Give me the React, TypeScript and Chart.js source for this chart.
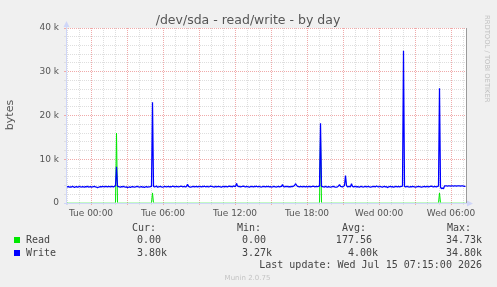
import React, { useEffect, useRef } from 'react';
import { Chart, registerables } from 'chart.js';

Chart.register(...registerables);

const TITLE = '/dev/sda - read/write - by day';
const Y_LABEL = 'bytes';
const SIDE_TEXT = 'RRDTOOL / TOBI OETIKER';
const FOOTER = 'Munin 2.0.75';
const LAST_UPDATE = 'Last update: Wed Jul 15 07:15:00 2026';

// time axis in minutes relative to Tue 00:00
const X_START = -125; // Mon 21:55
const X_END = 1875; // Wed 07:15
const SAMPLE_MINUTES = 5;
const GRID_MINUTES = 60;
const MAJOR_GRID_MINUTES = 180;
const X_TICK_MINUTES = [0, 360, 720, 1080, 1440, 1800];
const X_TICK_LABELS = ['Tue 00:00', 'Tue 06:00', 'Tue 12:00', 'Tue 18:00', 'Wed 00:00', 'Wed 06:00'];

// value axis in thousands of bytes
const Y_MAX = 40;
const Y_GRID_STEP = 2;
const Y_MAJOR_STEP = 10;
const Y_TICK_VALUES = [0, 10, 20, 30, 40];
const Y_TICK_LABELS = ['0', '10 k', '20 k', '30 k', '40 k'];

// Write, k bytes, one value per 5-minute sample (400 samples)
const WRITE_K = [
  3.8, 3.7, 3.75, 3.6, 3.7, 3.65, 3.8, 3.7, 3.55, 3.7, 3.75, 3.6, 3.7, 3.8, 3.7, 3.65, 3.75, 3.7, 3.6, 3.75,
  3.7, 3.8, 3.65, 3.7, 3.75, 3.6, 3.7, 3.75, 3.8, 3.7, 3.65, 3.5, 3.6, 3.7, 3.75, 3.7, 3.8, 3.75, 3.7, 3.8,
  3.75, 3.7, 3.8, 3.75, 3.7, 3.8, 3.75, 3.7, 3.8, 4.0, 8.3, 3.8, 3.75, 3.7, 3.6, 3.75, 3.7, 3.8, 3.7, 3.65,
  3.7, 3.5, 3.6, 3.7, 3.55, 3.7, 3.75, 3.7, 3.6, 3.7, 3.75, 3.8, 3.7, 3.65, 3.7, 3.75, 3.6, 3.7, 3.55, 3.7,
  3.75, 3.6, 3.7, 3.7, 3.75, 3.8, 23.0, 3.8, 3.7, 3.75, 3.9, 3.6, 3.7, 3.75, 3.8, 3.7, 3.65, 3.7, 3.8, 3.75,
  3.7, 3.75, 3.8, 3.7, 3.75, 3.7, 3.85, 3.8, 3.7, 3.75, 3.8, 3.75, 3.7, 3.75, 3.8, 3.85, 3.7, 3.75, 3.8, 3.7,
  3.75, 4.3, 3.8, 3.7, 3.6, 3.7, 3.75, 3.8, 3.7, 3.75, 3.8, 3.7, 3.75, 3.8, 3.75, 3.7, 3.8, 3.75, 3.85, 3.7,
  3.75, 3.8, 3.7, 3.75, 3.85, 3.8, 3.75, 3.7, 3.65, 3.8, 3.7, 3.75, 3.8, 3.75, 3.7, 3.6, 3.75, 3.8, 3.7, 3.8,
  3.75, 3.7, 3.8, 3.85, 3.75, 3.8, 3.7, 3.9, 3.8, 3.75, 4.5, 3.9, 3.75, 3.8, 3.7, 3.75, 3.8, 3.85, 3.75, 3.7,
  3.8, 3.75, 3.7, 3.6, 3.75, 3.8, 3.75, 3.7, 3.8, 3.75, 3.85, 3.7, 3.75, 3.8, 3.7, 3.65, 3.75, 3.8, 3.75, 3.7,
  3.8, 3.75, 3.8, 3.7, 3.75, 3.65, 3.7, 3.8, 3.75, 3.7, 3.65, 3.75, 3.8, 3.7, 3.75, 3.8, 4.2, 3.75, 3.7, 3.8,
  3.75, 3.8, 3.7, 3.75, 3.7, 3.8, 3.75, 3.85, 4.0, 4.4, 4.1, 3.8, 3.75, 3.7, 3.8, 3.75, 3.7, 3.8, 3.75, 3.7,
  3.8, 3.7, 3.75, 3.8, 3.7, 3.75, 3.8, 3.85, 3.7, 3.75, 3.8, 3.75, 3.8, 3.9, 18.2, 3.8, 3.75, 3.7, 3.65, 3.8,
  3.7, 3.6, 3.75, 3.7, 3.6, 3.7, 3.75, 3.8, 3.7, 3.6, 3.65, 3.7, 3.9, 4.2, 3.8, 3.75, 3.7, 3.8, 4.0, 6.3,
  4.0, 3.7, 3.75, 3.8, 3.7, 4.4, 3.8, 3.7, 3.75, 3.8, 3.7, 3.75, 3.7, 3.6, 3.75, 3.8, 3.7, 3.65, 3.75, 3.8,
  3.7, 3.75, 3.8, 3.7, 3.65, 3.7, 3.75, 3.8, 3.75, 3.7, 3.9, 3.75, 3.7, 3.8, 3.75, 3.7, 3.6, 3.75, 3.8, 3.7,
  3.75, 3.5, 3.7, 3.75, 3.8, 3.7, 3.75, 3.6, 3.7, 3.8, 3.75, 3.7, 3.8, 3.7, 3.75, 3.8, 3.85, 34.8, 3.8, 3.7,
  3.75, 3.8, 3.7, 3.65, 3.75, 3.7, 3.8, 3.75, 3.7, 3.6, 3.7, 3.75, 3.8, 3.75, 3.7, 3.65, 3.7, 3.75, 3.8, 3.7,
  3.75, 3.8, 3.7, 3.75, 3.8, 3.85, 3.75, 3.7, 3.8, 3.75, 3.7, 3.8, 3.85, 26.2, 3.6, 3.3, 3.4, 3.27, 3.9, 3.9,
  3.9, 3.85, 3.9, 3.9, 3.85, 3.9, 3.9, 3.85, 3.9, 3.9, 3.85, 3.9, 3.9, 3.9, 3.85, 3.9, 3.9, 3.85, 3.8, 3.8,
];

// Read is 0 except at these samples (k bytes)
const READ_SPIKE_INDEX = [50, 86, 254, 373];
const READ_SPIKE_K = [16, 2.3, 15, 2.3];

const SERIES_NAMES = ['Read', 'Write'];
const SERIES_COLORS = ['#00e800', '#0000ff'];
const STAT_HEADERS = ['Cur:', 'Min:', 'Avg:', 'Max:'];
const READ_STATS = ['0.00', '0.00', '177.56', '34.73k'];
const WRITE_STATS = ['3.80k', '3.27k', '4.00k', '34.80k'];

// styling / layout
const BG = '#f0f0f0';
const MINOR_GRID = 'rgb(222,222,222)';
const MAJOR_GRID = 'rgb(240,170,170)';
const AXIS_COLOR = '#cfd6f8';
const FRAME_COLOR = '#9a9a9a';
const TEXT_COLOR = '#555555';
const SANS = '"DejaVu Sans"';
const MONO = '"DejaVu Sans Mono"';
const HEADER_X = [132, 237, 342, 447];
const VALUE_RIGHT = [167, 272, 378, 482];

const times = WRITE_K.map((_, i) => X_START + SAMPLE_MINUTES * (i + 0.5));
const readK = WRITE_K.map((_, i) => {
  const k = READ_SPIKE_INDEX.indexOf(i);
  return k >= 0 ? READ_SPIKE_K[k] : 0;
});

const isMajorX = (v: number) => Math.abs(v % MAJOR_GRID_MINUTES) < 1e-6;
const isMajorY = (v: number) => Math.abs(v % Y_MAJOR_STEP) < 1e-6;

const muninPlugin = {
  id: 'munin',
  beforeDraw(chart: any) {
    const { ctx, chartArea: a, width, height } = chart;
    ctx.save();
    ctx.fillStyle = BG;
    ctx.fillRect(0, 0, width, height);
    ctx.fillStyle = '#ffffff';
    ctx.fillRect(a.left, a.top, a.right - a.left, a.bottom - a.top);
    ctx.restore();
  },
  afterDatasetsDraw(chart: any) {
    const { ctx, chartArea: a } = chart;
    ctx.save();
    ctx.lineWidth = 1;
    ctx.strokeStyle = FRAME_COLOR;
    ctx.beginPath();
    ctx.moveTo(a.right + 0.5, a.top);
    ctx.lineTo(a.right + 0.5, a.bottom);
    ctx.stroke();
    ctx.strokeStyle = AXIS_COLOR;
    ctx.fillStyle = AXIS_COLOR;
    ctx.beginPath();
    ctx.moveTo(a.left + 0.5, a.bottom + 2);
    ctx.lineTo(a.left + 0.5, a.top - 5);
    ctx.moveTo(a.left - 2, a.bottom + 0.5);
    ctx.lineTo(a.right + 5, a.bottom + 0.5);
    ctx.stroke();
    ctx.beginPath();
    ctx.moveTo(a.left + 0.5, a.top - 7);
    ctx.lineTo(a.left - 2.5, a.top - 1);
    ctx.lineTo(a.left + 3.5, a.top - 1);
    ctx.closePath();
    ctx.fill();
    ctx.beginPath();
    ctx.moveTo(a.right + 7, a.bottom + 0.5);
    ctx.lineTo(a.right + 1, a.bottom - 2.5);
    ctx.lineTo(a.right + 1, a.bottom + 3.5);
    ctx.closePath();
    ctx.fill();
    ctx.restore();
  },
  afterDraw(chart: any) {
    const { ctx } = chart;
    ctx.save();
    ctx.fillStyle = TEXT_COLOR;
    ctx.font = `12.5px ${SANS}`;
    ctx.textAlign = 'center';
    ctx.textBaseline = 'alphabetic';
    ctx.fillText(TITLE, 248, 24);
    ctx.save();
    ctx.translate(13, 115);
    ctx.rotate(-Math.PI / 2);
    ctx.font = `11px ${SANS}`;
    ctx.fillStyle = TEXT_COLOR;
    ctx.fillText(Y_LABEL, 0, 0);
    ctx.restore();
    ctx.save();
    ctx.translate(485, 15);
    ctx.rotate(Math.PI / 2);
    ctx.font = `6.8px ${SANS}`;
    ctx.fillStyle = '#c0c0c0';
    ctx.textAlign = 'left';
    ctx.fillText(SIDE_TEXT, 0, 0);
    ctx.restore();
    ctx.font = `10px ${MONO}`;
    ctx.fillStyle = '#444444';
    ctx.textAlign = 'left';
    STAT_HEADERS.forEach((h, i) => ctx.fillText(h, HEADER_X[i], 231));
    const rows = [READ_STATS, WRITE_STATS];
    const baselines = [243, 256];
    rows.forEach((stats, r) => {
      ctx.fillStyle = SERIES_COLORS[r];
      ctx.fillRect(14, baselines[r] - 6, 6, 6);
      ctx.fillStyle = '#444444';
      ctx.textAlign = 'left';
      ctx.fillText(SERIES_NAMES[r], 26, baselines[r]);
      ctx.textAlign = 'right';
      stats.forEach((s, i) => {
        const txt = s.endsWith('k') ? s : s + ' ';
        ctx.fillText(txt, VALUE_RIGHT[i], baselines[r]);
      });
    });
    ctx.textAlign = 'right';
    ctx.fillText(LAST_UPDATE, 482, 268);
    ctx.font = `7px ${SANS}`;
    ctx.fillStyle = '#c4c4c4';
    ctx.textAlign = 'center';
    ctx.fillText(FOOTER, 247.5, 279.5);
    ctx.restore();
  },
};

export default function App() {
  const ref = useRef<HTMLCanvasElement>(null);
  useEffect(() => {
    document.body.style.margin = '0';
    const canvas = ref.current;
    if (!canvas) return;
    const colX = (c: any) => (c.tick && isMajorX(c.tick.value) ? MAJOR_GRID : MINOR_GRID);
    const colY = (c: any) => (c.tick && isMajorY(c.tick.value) ? MAJOR_GRID : MINOR_GRID);
    const chart = new Chart(canvas, {
      type: 'line',
      data: {
        datasets: [
          {
            label: SERIES_NAMES[1],
            data: times.map((t, i) => ({ x: t, y: WRITE_K[i] })),
            borderColor: SERIES_COLORS[1],
            borderWidth: 1.25,
            pointRadius: 0,
            tension: 0,
            borderJoinStyle: 'bevel',
            order: 1,
          },
          {
            label: SERIES_NAMES[0],
            data: times.map((t, i) => ({ x: t, y: readK[i] })),
            borderColor: SERIES_COLORS[0],
            borderWidth: 1,
            pointRadius: 0,
            tension: 0,
            borderJoinStyle: 'bevel',
            clip: { left: 0, top: 0, right: 0, bottom: -0.6 },
            order: 2,
          },
        ],
      } as any,
      options: {
        animation: false,
        responsive: false,
        devicePixelRatio: 1,
        events: [],
        layout: { padding: { top: 28, right: 31, left: 0, bottom: 0 } },
        plugins: { legend: { display: false }, tooltip: { enabled: false }, title: { display: false } },
        scales: {
          x: {
            type: 'linear',
            min: X_START,
            max: X_END,
            afterBuildTicks: (s: any) => {
              const t: any[] = [];
              for (let v = Math.ceil(X_START / GRID_MINUTES) * GRID_MINUTES; v <= X_END; v += GRID_MINUTES) t.push({ value: v });
              s.ticks = t;
            },
            afterFit: (s: any) => {
              s.height = 84;
            },
            grid: { color: colX, tickColor: colX, lineWidth: 1, drawTicks: true, tickLength: 2 },
            border: { display: false, dash: [1, 1] },
            ticks: {
              autoSkip: false,
              maxRotation: 0,
              padding: 3,
              color: TEXT_COLOR,
              font: { family: 'DejaVu Sans', size: 9 },
              callback: (v: any) => {
                const k = X_TICK_MINUTES.indexOf(Number(v));
                return k >= 0 ? X_TICK_LABELS[k] : '';
              },
            },
          },
          y: {
            type: 'linear',
            min: 0,
            max: Y_MAX,
            afterBuildTicks: (s: any) => {
              const t: any[] = [];
              for (let v = 0; v <= Y_MAX; v += Y_GRID_STEP) t.push({ value: v });
              s.ticks = t;
            },
            afterFit: (s: any) => {
              s.width = 66;
            },
            grid: { color: colY, tickColor: colY, lineWidth: 1, drawTicks: true, tickLength: 2 },
            border: { display: false, dash: [1, 1] },
            ticks: {
              autoSkip: false,
              padding: 5,
              color: TEXT_COLOR,
              font: { family: 'DejaVu Sans', size: 9 },
              callback: (v: any) => {
                const k = Y_TICK_VALUES.indexOf(Number(v));
                return k >= 0 ? Y_TICK_LABELS[k] : '';
              },
            },
          },
        },
      } as any,
      plugins: [muninPlugin],
    });
    return () => chart.destroy();
  }, []);
  return <canvas ref={ref} width={497} height={287} style={{ display: 'block', width: 497, height: 287 }} />;
}
